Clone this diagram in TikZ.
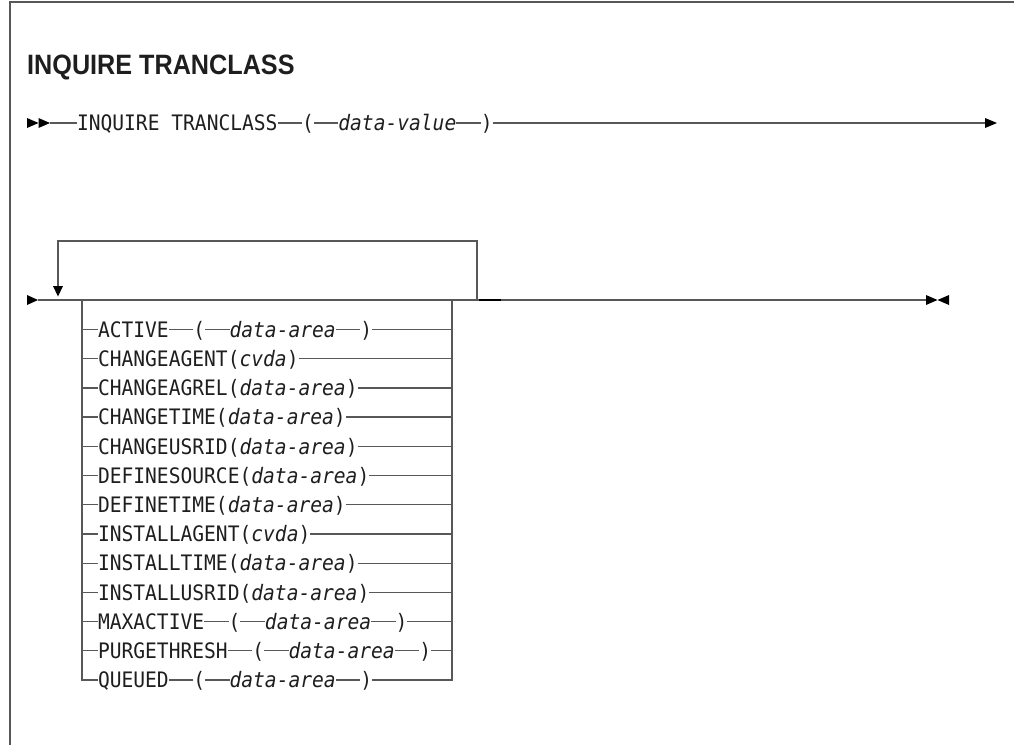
\documentclass[tikz,border=0pt]{standalone}
\usepackage{fontspec}
\usetikzlibrary{positioning}
\newfontfamily\kwfont[FakeStretch=0.92]{DejaVu Sans Mono}
\newfontfamily\ttlfont[FakeStretch=0.9]{Liberation Sans}
\definecolor{lncol}{RGB}{88,88,88}
\definecolor{txtcol}{RGB}{30,30,30}
\tikzset{
  kw/.style={inner sep=0pt, outer sep=0pt, anchor=west, text height=15.5pt, text depth=0pt,
             font=\kwfont\fontsize{21.3pt}{24pt}\selectfont, text=txtcol},
  ln/.style={draw=lncol, line width=1.3pt},
  frm/.style={draw=lncol, line width=1.5pt},
  tip/.style={fill=black},
  gap/.style={right=24.5pt of #1}
}
\newcommand{\va}[1]{\textit{#1}}
\begin{document}
\begin{tikzpicture}[x=1pt,y=-1pt]
\useasboundingbox (0,0) rectangle (1014,745);
% frame
\draw[frm] (1014,2) -- (10,2) -- (10,745);
% title
\node[anchor=base west, inner sep=0pt, font=\ttlfont\bfseries\fontsize{28pt}{31pt}\selectfont, text=txtcol] (title) at (27,74) {INQUIRE TRANCLASS};

% ---------- row 1 ----------
\coordinate (s1) at (50,123);
\node[kw] (cmd) at (77,123) {INQUIRE TRANCLASS};
\node[kw, gap=cmd] (lp0) {(};
\node[kw, gap=lp0] (dv0) {\va{data-value}};
\node[kw, gap=dv0] (rp0) {)};
\coordinate (e1) at (986,123);
\fill[tip] (27,118) -- (38.5,123) -- (27,128) -- cycle;
\fill[tip] (38.5,118) -- (50,123) -- (38.5,128) -- cycle;
\draw[ln] (s1) -- (cmd.west);
\draw[ln] (cmd.east) -- (lp0.west);
\draw[ln] (lp0.east) -- (dv0.west);
\draw[ln] (dv0.east) -- (rp0.west);
\draw[ln] (rp0.east) -- (e1);
\fill[tip] (985,118) -- (997,123) -- (985,128) -- cycle;

% ---------- row 2 main line ----------
\coordinate (s2) at (38,300);
\coordinate (lb) at (82,300);
\coordinate (rb) at (452,300);
\coordinate (lpR) at (477,300);
\coordinate (e2) at (927,300);
\fill[tip] (27,295) -- (38,300) -- (27,305) -- cycle;
\draw[ln] (s2) -- (e2);
\draw[draw=black, line width=2pt] (479,300) -- (501,300);
\fill[tip] (926,295) -- (937.5,300) -- (926,305) -- cycle;
\fill[tip] (949,295) -- (937.5,300) -- (949,305) -- cycle;
% repeat loop
\draw[ln] (lpR) -- (477,241) -- (58,241) -- (58,287);
\fill[tip] (53,286) -- (58,296.5) -- (63,286) -- cycle;

% ---------- choices ----------
\node[kw] (k0) at (98,329.5) {ACTIVE};
\node[kw, gap=k0] (lpa) {(};
\node[kw, gap=lpa] (da) {\va{data-area}};
\node[kw, gap=da] (rpa) {)};

\node[kw] (k1) at (98,358.7) {CHANGEAGENT(\va{cvda})};
\node[kw] (k2) at (98,387.9) {CHANGEAGREL(\va{data-area})};
\node[kw] (k3) at (98,417.1) {CHANGETIME(\va{data-area})};
\node[kw] (k4) at (98,446.3) {CHANGEUSRID(\va{data-area})};
\node[kw] (k5) at (98,475.5) {DEFINESOURCE(\va{data-area})};
\node[kw] (k6) at (98,504.8) {DEFINETIME(\va{data-area})};
\node[kw] (k7) at (98,534.0) {INSTALLAGENT(\va{cvda})};
\node[kw] (k8) at (98,563.2) {INSTALLTIME(\va{data-area})};
\node[kw] (k9) at (98,592.4) {INSTALLUSRID(\va{data-area})};

\node[kw] (k10) at (98,621.6) {MAXACTIVE};
\node[kw, gap=k10] (lpm) {(};
\node[kw, gap=lpm] (dm) {\va{data-area}};
\node[kw, gap=dm] (rpm) {)};

\node[kw] (k11) at (98,650.8) {PURGETHRESH};
\node[kw, gap=k11] (lpp) {(};
\node[kw, gap=lpp] (dp) {\va{data-area}};
\node[kw, gap=dp] (rpp) {)};

\node[kw] (k12) at (98,680) {QUEUED};
\node[kw, gap=k12] (lpq) {(};
\node[kw, gap=lpq] (dq) {\va{data-area}};
\node[kw, gap=dq] (rpq) {)};

% box verticals
\draw[ln] (lb) -- (82,680) -- (k12.west);
\draw[ln] (rb) -- (452,680) -- (rpq.east);

% stubs and tails
\foreach \k in {0,...,11} {
  \draw[ln] (k\k.west -| lb) -- (k\k.west);
}
\foreach \n in {k1,k2,k3,k4,k5,k6,k7,k8,k9} {
  \draw[ln] (\n.east) -- (\n.east -| rb);
}
\draw[ln] (k0.east) -- (lpa.west);
\draw[ln] (lpa.east) -- (da.west);
\draw[ln] (da.east) -- (rpa.west);
\draw[ln] (rpa.east) -- (rpa.east -| rb);

\draw[ln] (k10.east) -- (lpm.west);
\draw[ln] (lpm.east) -- (dm.west);
\draw[ln] (dm.east) -- (rpm.west);
\draw[ln] (rpm.east) -- (rpm.east -| rb);

\draw[ln] (k11.east) -- (lpp.west);
\draw[ln] (lpp.east) -- (dp.west);
\draw[ln] (dp.east) -- (rpp.west);
\draw[ln] (rpp.east) -- (rpp.east -| rb);

\draw[ln] (k12.east) -- (lpq.west);
\draw[ln] (lpq.east) -- (dq.west);
\draw[ln] (dq.east) -- (rpq.west);
\end{tikzpicture}
\end{document}
